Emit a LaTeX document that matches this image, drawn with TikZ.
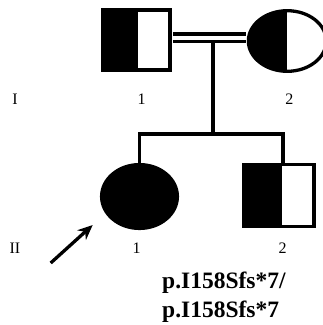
\documentclass[tikz,border=0pt]{standalone}
\usepackage{fontspec}
\setmainfont{Liberation Serif}
\usetikzlibrary{shapes.geometric,arrows.meta}
\begin{document}
\begin{tikzpicture}[x=1pt,y=-1pt,
  lw/.style={line width=3.3pt},
  male/.style={rectangle, draw, lw, fill=white, inner sep=0pt},
  female/.style={ellipse, draw, lw, fill=white, inner sep=0pt},
  halfleft/.style={path picture={\fill[black] (path picture bounding box.south west) rectangle ([xshift=#1]path picture bounding box.north);}},
  gen/.style={font=\fontsize{16}{19}\selectfont, inner sep=0pt},
  mut/.style={font=\fontsize{23.5}{29}\selectfont\bfseries, inner sep=0pt, anchor=base west}]
\useasboundingbox (0,0) rectangle (323,325);

% generation I
\node[male, halfleft=2pt, minimum width=67.5pt, minimum height=60pt] (I1) at (136.4,40) {};
\node[female, halfleft=0pt, minimum width=77.8pt, minimum height=60.6pt] (I2) at (287.3,41) {};

% consanguineous mating line and line of descent
\draw[line width=3.5pt, double, double distance=4pt, shorten <=1.6pt, shorten >=1.2pt]
  ([yshift=2.5pt]I1.east) -- ([yshift=3.5pt]I2.west);
\coordinate (mate) at (213,42);
\coordinate (sib) at (213,134);

% generation II
\node[female, fill=black, minimum width=75.8pt, minimum height=63.8pt] (II1) at (139.5,196.5) {};
\node[male, halfleft=2.7pt, minimum width=70.2pt, minimum height=61.8pt] (II2) at (279,195.5) {};
\coordinate (d2) at ([xshift=4pt]II2.north);

\draw[line width=3.5pt] (mate) -- (sib);
\draw[line width=3.5pt] (II1.north) -- (II1.north |- sib) -- (d2 |- sib) -- (d2);

% proband arrow
\coordinate (atail) at (50.7,263);
\coordinate (ahead) at (92.7,225);
\draw[lw, -{Stealth[length=15pt,width=13pt]}] (atail) -- (ahead);

% labels
\node[gen] (gI) at (15,99) {I};
\node[gen] (nI1) at (141.7,99) {1};
\node[gen] (nI2) at (289.3,99) {2};
\node[gen] (gII) at (15,248) {II};
\node[gen] (nII1) at (136.7,248) {1};
\node[gen] (nII2) at (282.7,248) {2};

\node[mut] (mut1) at (162,288.3) {p.I158Sfs*7/};
\node[mut] (mut2) at (162,317.3) {p.I158Sfs*7};
\end{tikzpicture}
\end{document}
